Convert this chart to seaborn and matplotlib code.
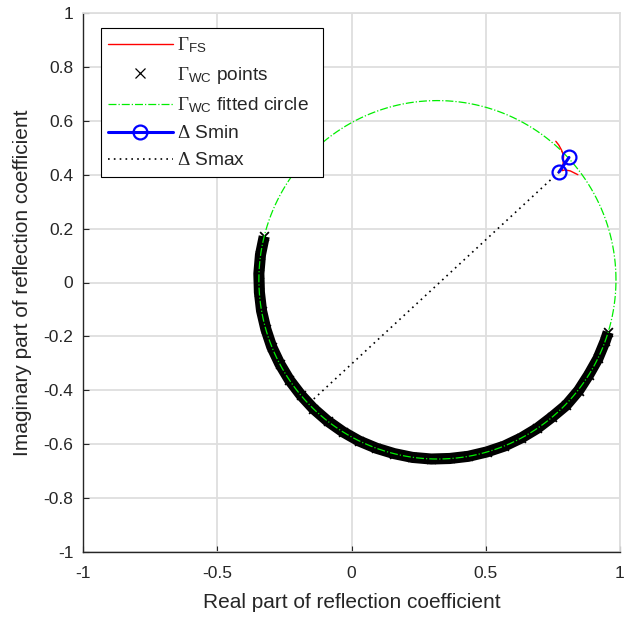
import numpy as np
import pandas as pd
import matplotlib
matplotlib.use("Agg")
import matplotlib.pyplot as plt
import seaborn as sns

# ---- data ----
wc_x = [-0.325, -0.339, -0.345, -0.343, -0.335, -0.319, -0.297, -0.267, -0.231, -0.189,
        -0.142, -0.089, -0.032, 0.028, 0.093, 0.159, 0.227, 0.297, 0.366, 0.435,
        0.503, 0.569, 0.632, 0.692, 0.747, 0.800, 0.846, 0.884, 0.918, 0.945, 0.956]
wc_y = [0.171, 0.103, 0.033, -0.036, -0.105, -0.173, -0.239, -0.302, -0.362, -0.417,
        -0.468, -0.514, -0.554, -0.588, -0.615, -0.635, -0.649, -0.655, -0.653, -0.645,
        -0.629, -0.607, -0.577, -0.541, -0.499, -0.455, -0.401, -0.342, -0.282, -0.217, -0.184]

circle_center = (0.32, 0.01)
circle_radius = 0.665

fs_x = [0.761, 0.772, 0.782, 0.790, 0.788, 0.784, 0.795, 0.815, 0.843]
fs_y = [0.524, 0.510, 0.492, 0.470, 0.440, 0.415, 0.418, 0.414, 0.400]

smin_x = [0.810, 0.773]
smin_y = [0.464, 0.410]

smax_x = [0.773, -0.160]
smax_y = [0.410, -0.450]

xticks = [-1, -0.5, 0, 0.5, 1]
xtick_labels = ["-1", "-0.5", "0", "0.5", "1"]
yticks = [-1, -0.8, -0.6, -0.4, -0.2, 0, 0.2, 0.4, 0.6, 0.8, 1]
ytick_labels = ["-1", "-0.8", "-0.6", "-0.4", "-0.2", "0", "0.2", "0.4", "0.6", "0.8", "1"]

# ---- style ----
sns.set_style("whitegrid")
plt.rcParams["font.family"] = ["Liberation Sans", "DejaVu Sans"]
plt.rcParams["mathtext.fontset"] = "custom"
plt.rcParams["mathtext.rm"] = "Liberation Serif"
plt.rcParams["mathtext.sf"] = "Liberation Sans"
plt.rcParams["mathtext.it"] = "Liberation Serif:italic"

GRID = "#dedede"

fig = plt.figure(figsize=(6.26, 6.19), dpi=100)
ax = fig.add_axes([83 / 626, 1 - 552 / 619, 537 / 626, 539 / 619])

th = np.linspace(0, 2 * np.pi, 400)
circ = pd.DataFrame({"x": circle_center[0] + circle_radius * np.cos(th),
                     "y": circle_center[1] + circle_radius * np.sin(th)})

wc = pd.DataFrame({"x": wc_x, "y": wc_y})
fs = pd.DataFrame({"x": fs_x, "y": fs_y})
smin = pd.DataFrame({"x": smin_x, "y": smin_y})
smax = pd.DataFrame({"x": smax_x, "y": smax_y})

# dense band of Gamma_WC points
sns.lineplot(data=wc, x="x", y="y", sort=False, estimator=None, ax=ax, color="black",
             lw=8, solid_capstyle="butt", zorder=2, label="_nolegend_")
sns.scatterplot(data=wc, x="x", y="y", ax=ax, marker="x", color="black", s=40,
                linewidth=1.3, zorder=2, label="_nolegend_")

sns.lineplot(data=fs, x="x", y="y", sort=False, estimator=None, ax=ax, color="red",
             lw=1.0, zorder=4, label=r"$\mathrm{\Gamma}_{\mathsf{FS}}$")
ax.plot([], [], ls="none", marker="x", color="black", ms=7, mew=0.9,
        label=r"$\mathrm{\Gamma}_{\mathsf{WC}}$ points")
sns.lineplot(data=circ, x="x", y="y", sort=False, estimator=None, ax=ax, color="#00ee00",
             lw=0.9, linestyle="-.", zorder=3,
             label=r"$\mathrm{\Gamma}_{\mathsf{WC}}$ fitted circle  ")
sns.lineplot(data=smin, x="x", y="y", sort=False, estimator=None, ax=ax, color="#0000ff",
             lw=2.2, marker="o", markersize=10, markerfacecolor="none",
             markeredgecolor="#0000ff", markeredgewidth=1.6, zorder=5,
             label=r"$\mathrm{\Delta}$ Smin")
sns.lineplot(data=smax, x="x", y="y", sort=False, estimator=None, ax=ax, color="black",
             lw=1.2, linestyle=(0, (1, 2.5)), zorder=3, label=r"$\mathrm{\Delta}$ Smax")

ax.set_xlim(-1, 1)
ax.set_ylim(-1, 1)
ax.set_xticks(xticks)
ax.set_xticklabels(xtick_labels)
ax.set_yticks(yticks)
ax.set_yticklabels(ytick_labels)
ax.set_xlabel("Real part of reflection coefficient", fontsize=15, labelpad=9)
ax.set_ylabel("Imaginary part of reflection coefficient", fontsize=15, labelpad=8)
ax.tick_params(axis="both", labelsize=12.5, direction="in", length=4, width=0.8,
               color="#262626", bottom=True, left=True, top=False, right=False)
ax.tick_params(axis="x", pad=10)
ax.tick_params(axis="y", pad=7)
ax.grid(True, color=GRID, lw=1.3)
for name, s in ax.spines.items():
    if name in ("left", "bottom"):
        s.set_color("#262626")
        s.set_linewidth(1.0)
    else:
        s.set_color(GRID)
        s.set_linewidth(1.3)

leg = ax.legend(loc="upper left", bbox_to_anchor=(0.033, 0.972), fontsize=13.8,
                frameon=True, fancybox=False, framealpha=1, edgecolor="black",
                handlelength=3.35, handletextpad=0.25, borderpad=0.4, labelspacing=0.5,
                borderaxespad=0)
leg.get_frame().set_linewidth(0.8)

fig.savefig("out.png", dpi=100)
